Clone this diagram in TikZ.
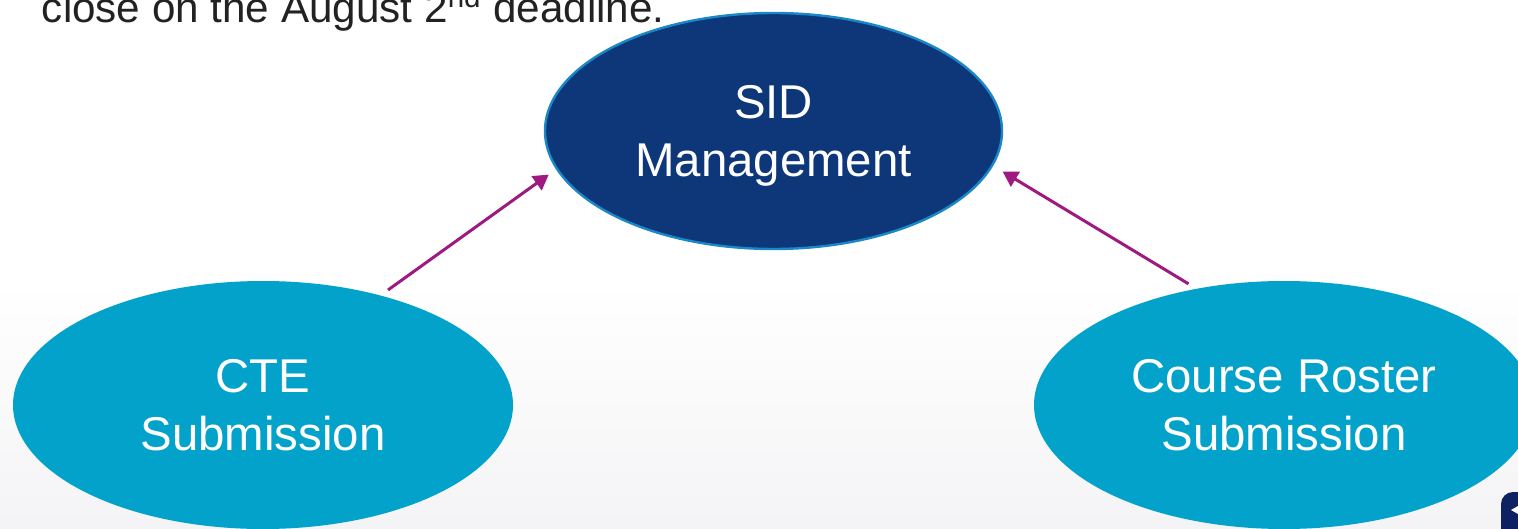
\documentclass[tikz,border=0pt]{standalone}
\usepackage{fontspec}
\setmainfont{Liberation Sans}
\usetikzlibrary{shapes.geometric,arrows.meta}
\definecolor{navy}{HTML}{0D3778}
\definecolor{navyedge}{HTML}{1A87C9}
\definecolor{lagoon}{HTML}{02A2CB}
\definecolor{plum}{HTML}{9E1A80}
\definecolor{ink}{HTML}{222222}
\definecolor{logonavy}{HTML}{0E2163}
\definecolor{floor}{HTML}{F4F4F6}
\begin{document}
\begin{tikzpicture}[x=0.5pt,y=-0.5pt,
  bubble/.style={ellipse, inner sep=0pt, text=white, align=center,
    text depth=0pt, font=\fontsize{23.7}{29}\selectfont},
  flow/.style={plum, line width=1.5pt,
    -{Triangle[length=7.5pt,width=8.5pt]}}]
\useasboundingbox (0,0) rectangle (1518,529);
\clip (0,0) rectangle (1518,529);
% slide background: white fading to a pale grey at the bottom
\fill[white] (0,0) rectangle (1518,280);
\shade[top color=white, bottom color=floor] (0,280) rectangle (1518,529);

% heading text, cut at the top edge
\node[anchor=base west, inner sep=0pt, text=ink,
  font=\fontsize{21.1}{25}\selectfont] (note) at (41.5,23)
  {close on the August 2\textsuperscript{nd} deadline.};

% the three process bubbles
\node[bubble, fill=navy, draw=navyedge, line width=1.2pt,
  minimum width=228.5pt, minimum height=118pt] (sid) at (773.5,131)
  {SID\\Management};
\node[bubble, fill=lagoon, minimum width=250pt, minimum height=124pt]
  (cte) at (263,405) {CTE\\Submission};
\node[bubble, fill=lagoon, minimum width=250pt, minimum height=124pt]
  (course) at (1284,405) {Course Roster\\Submission};

% flows into SID Management
\draw[flow, shorten <=4.5pt, shorten >=4.5pt] (cte.43) -- (sid.190);
\draw[flow, shorten <=4.5pt, shorten >=5.5pt] (course.127) -- (sid.-9);

% corner logo
\fill[logonavy, rounded corners=6pt] (1501,492) rectangle (1560,570);
\fill[white] (1511,510) -- (1518,506) -- (1518,514) -- cycle;
\end{tikzpicture}
\end{document}
